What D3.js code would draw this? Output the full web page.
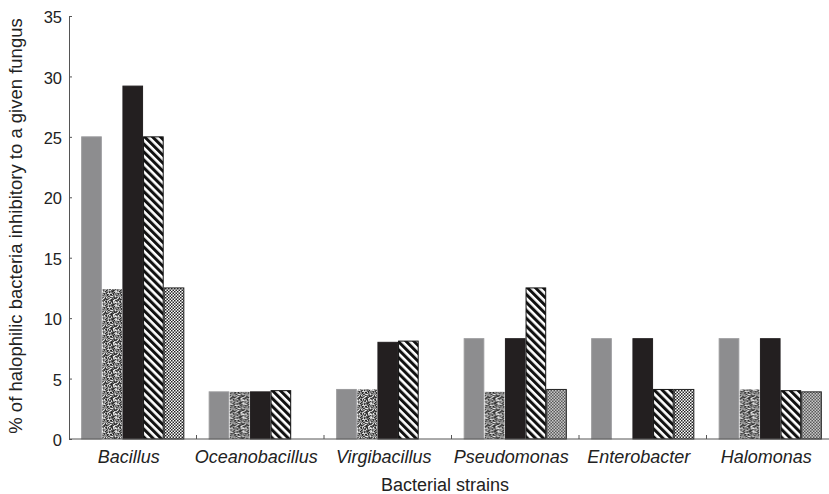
<!DOCTYPE html>
<html>
<head>
<meta charset="utf-8">
<script src="https://cdn.jsdelivr.net/npm/d3@7"></script>
<style>
  body { margin: 0; background: #fff; }
  svg { display: block; font-family: "Liberation Sans", Arial, sans-serif; }
</style>
</head>
<body>
<svg id="chart" width="829" height="494"></svg>
<script>
// data
const categories = ['Bacillus', 'Oceanobacillus', 'Virgibacillus', 'Pseudomonas', 'Enterobacter', 'Halomonas'];
const seriesKeys = ['s1', 's2', 's3', 's4', 's5'];
const s1 = [25, 3.9, 4.1, 8.3, 8.3, 8.3];
const s2 = [12.4, 3.9, 4.1, 3.9, 0, 4.1];
const s3 = [29.2, 3.9, 8.0, 8.3, 8.3, 8.3];
const s4 = [25, 4.0, 8.1, 12.5, 4.1, 4.0];
const s5 = [12.5, 0, 0, 4.1, 4.1, 3.9];
const yTicks = [0, 5, 10, 15, 20, 25, 30, 35];
const seriesValues = [s1, s2, s3, s4, s5];

const svg = d3.select('#chart');
const margin = { left: 69, top: 16, bottom: 55 };
const width = 829, height = 494;
const y0 = height - margin.bottom; // ~439

const x = d3.scaleBand().domain(categories).range([margin.left, margin.left + 765]).paddingInner(0).paddingOuter(0);
const xs = d3.scaleBand().domain(seriesKeys).range([0, x.bandwidth()]).paddingOuter(0.59).paddingInner(0);
const y = d3.scaleLinear().domain([0, 35]).range([y0, margin.top]);

// patterns
const defs = svg.append('defs');

// stipple (deterministic pseudo-noise texture)
const noise = defs.append('pattern').attr('id', 'stipple').attr('patternUnits', 'userSpaceOnUse')
  .attr('width', 14).attr('height', 14);
noise.append('rect').attr('width', 14).attr('height', 14).attr('fill', '#bbb');
for (let i = 0; i < 14; i++) {
  for (let j = 0; j < 14; j++) {
    const h = Math.abs(Math.sin(i * 12.9898 + j * 78.233) * 43758.5453) % 1;
    const g = Math.round(35 + h * 205);
    noise.append('rect').attr('x', i).attr('y', j).attr('width', 1).attr('height', 1)
      .attr('fill', `rgb(${g},${g},${g})`);
  }
}

// diagonal hatch (\\\)
const hatch = defs.append('pattern').attr('id', 'hatch').attr('patternUnits', 'userSpaceOnUse')
  .attr('width', 5.6).attr('height', 5.6).attr('patternTransform', 'rotate(-45)');
hatch.append('rect').attr('width', 5.6).attr('height', 5.6).attr('fill', '#fff');
hatch.append('rect').attr('width', 3).attr('height', 5.6).attr('fill', '#111');

// fine checker
const checker = defs.append('pattern').attr('id', 'checker').attr('patternUnits', 'userSpaceOnUse')
  .attr('width', 3).attr('height', 3);
checker.append('rect').attr('width', 3).attr('height', 3).attr('fill', '#fff');
checker.append('rect').attr('width', 1.5).attr('height', 1.5).attr('fill', '#222');
checker.append('rect').attr('x', 1.5).attr('y', 1.5).attr('width', 1.5).attr('height', 1.5).attr('fill', '#222');

const fills = { s1: '#8d8d8f', s2: 'url(#stipple)', s3: '#231f20', s4: 'url(#hatch)', s5: 'url(#checker)' };
const strokes = { s1: '#9a9a9c', s2: 'none', s3: '#231f20', s4: '#111', s5: '#222' };

// bars
const groups = svg.append('g').selectAll('g')
  .data(categories)
  .join('g')
  .attr('transform', d => `translate(${x(d)},0)`);

groups.selectAll('rect')
  .data((d, i) => seriesKeys.map((k, si) => ({ key: k, value: seriesValues[si][i] })).filter(e => e.value > 0))
  .join('rect')
  .attr('x', d => xs(d.key) + 0.5)
  .attr('width', xs.bandwidth() - 1)
  .attr('y', d => y(d.value))
  .attr('height', d => y0 - y(d.value))
  .attr('fill', d => fills[d.key])
  .attr('stroke', d => strokes[d.key])
  .attr('stroke-width', 1);

// y axis
const yAxis = svg.append('g')
  .attr('transform', `translate(${margin.left},0)`)
  .call(d3.axisRight(y).tickValues(yTicks).tickSize(3).tickFormat(d3.format('d')));
yAxis.select('.domain').attr('stroke', '#555');
yAxis.selectAll('.tick line').attr('stroke', '#555');
yAxis.selectAll('.tick text')
  .attr('x', -7).attr('text-anchor', 'end').attr('dy', '0.4em')
  .attr('font-size', 16.5).attr('fill', '#222');

// x axis
const xAxis = svg.append('g')
  .attr('transform', `translate(0,${y0})`);
xAxis.append('line').attr('x1', margin.left).attr('x2', width).attr('stroke', '#555');
xAxis.selectAll('line.sep')
  .data(categories.slice(1))
  .join('line')
  .attr('class', 'sep')
  .attr('x1', d => x(d)).attr('x2', d => x(d))
  .attr('y1', 0).attr('y2', -4)
  .attr('stroke', '#555');
xAxis.selectAll('text')
  .data(categories)
  .join('text')
  .attr('x', d => x(d) + x.bandwidth() / 2 - 4)
  .attr('y', 24)
  .attr('text-anchor', 'middle')
  .attr('font-size', 18)
  .attr('font-style', 'italic')
  .attr('fill', '#222')
  .text(d => d);

// axis titles
svg.append('text')
  .attr('x', 445).attr('y', 491)
  .attr('text-anchor', 'middle')
  .attr('font-size', 18).attr('fill', '#222')
  .text('Bacterial strains');

svg.append('text')
  .attr('transform', `translate(22,${226}) rotate(-90)`)
  .attr('text-anchor', 'middle')
  .attr('font-size', 18.5).attr('fill', '#222')
  .text('% of halophilic bacteria inhibitory to a given fungus');
</script>
</body>
</html>
